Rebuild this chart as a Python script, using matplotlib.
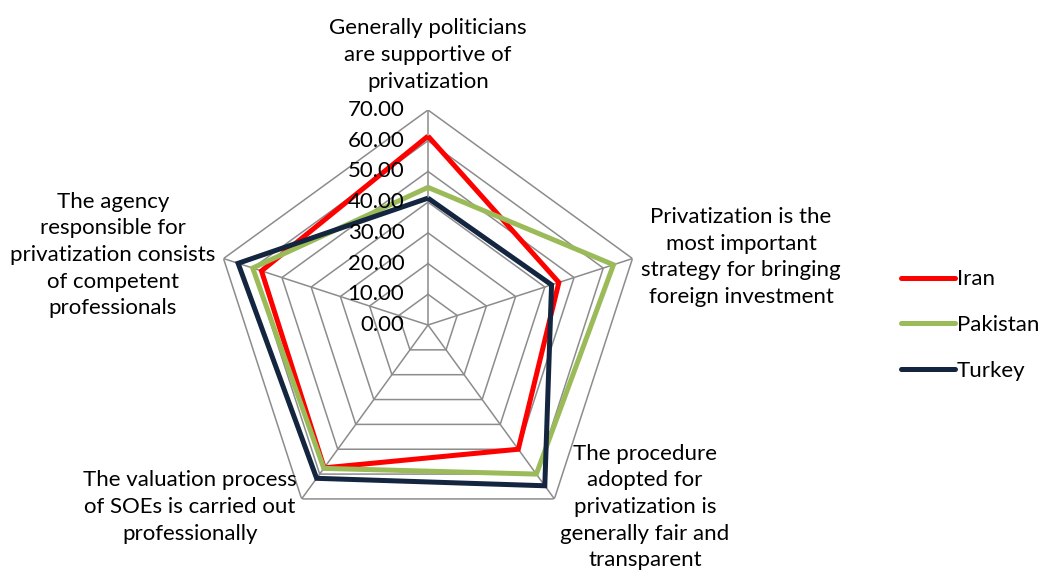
import numpy as np
import matplotlib
matplotlib.use("Agg")
import matplotlib.pyplot as plt
from matplotlib.lines import Line2D

# survey scores (mean agreement, %) per statement
categories = [
    "Generally politicians\nare supportive of\nprivatization",
    "Privatization is the\nmost important\nstrategy for bringing\nforeign investment",
    "The procedure\nadopted for\nprivatization is\ngenerally fair and\ntransparent",
    "The valuation process\nof SOEs is carried out\nprofessionally",
    "The agency\nresponsible for\nprivatization consists\nof competent\nprofessionals",
]
iran = [61.5, 44.8, 50.0, 57.5, 57.0]
pakistan = [44.8, 63.5, 60.0, 57.7, 60.0]
turkey = [41.3, 42.3, 64.7, 61.7, 65.0]
series = [("Iran", iran, "#FF0000"),
          ("Pakistan", pakistan, "#9BBB59"),
          ("Turkey", turkey, "#14253F")]
rticks = [0, 10, 20, 30, 40, 50, 60, 70]

plt.rcParams["font.family"] = ["Lato", "DejaVu Sans"]
FS = 16
W, H = 1041, 576
fig = plt.figure(figsize=(W / 100, H / 100), dpi=100)

cx, cy, R = 428, 325, 215
ax = fig.add_axes([(cx - R) / W, (H - cy - R) / H, 2 * R / W, 2 * R / H],
                  projection="polar")
ax.set_theta_offset(np.pi / 2)
ax.set_theta_direction(-1)
ax.set_ylim(0, rticks[-1])
ax.set_axis_off()

n = len(categories)
theta = np.arange(n) * 2 * np.pi / n
closed = np.append(theta, theta[0])

grid_kw = dict(color="#8C8C8C", lw=1.1, zorder=1)
for r in rticks[1:]:
    ax.plot(closed, [r] * (n + 1), **grid_kw)
for t in theta:
    ax.plot([t, t], [0, rticks[-1]], **grid_kw)

for r in rticks:
    ax.annotate(f"{r:.2f}", xy=(0, r), xytext=(-17, 0), textcoords="offset points",
                ha="right", va="center", fontsize=FS, color="black", zorder=5)

for name, vals, col in series:
    ax.plot(closed, vals + vals[:1], color=col, lw=3.6, solid_joinstyle="miter",
            solid_capstyle="butt", zorder=3, label=name)

# statement labels round the web
label_pos = [(428, 55), (741, 257), (645, 507), (190, 507), (113, 255)]
for text, (x, y) in zip(categories, label_pos):
    fig.text(x / W, 1 - y / H, text, ha="center", va="center", fontsize=FS,
             linespacing=1.42)

handles = [Line2D([], [], color=c, lw=3.6, solid_capstyle="round") for _, _, c in series]
fig.legend(handles, [s[0] for s in series], loc="center left",
           bbox_to_anchor=(881 / W, 1 - 325 / H), frameon=False, fontsize=FS,
           handlelength=2.45, handletextpad=0.05, labelspacing=1.15)

fig.savefig("out.png", dpi=100, facecolor="white")
